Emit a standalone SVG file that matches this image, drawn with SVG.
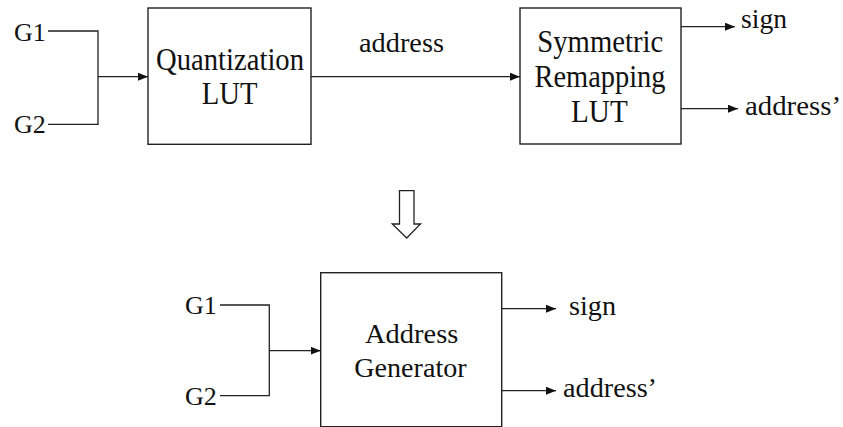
<svg xmlns="http://www.w3.org/2000/svg" width="843" height="427" viewBox="0 0 843 427">
  <style>
    .box { fill: #fff; stroke: #222; stroke-width: 1.4; }
    .wire { fill: none; stroke: #222; stroke-width: 1.3; }
    text { font-family: 'Liberation Serif', 'Times New Roman', serif; fill: #111; }
    .big { font-size: 31px; }
    .mid { font-size: 28px; }
    .lab { font-size: 26px; }
  </style>
  <defs>
    <marker id="arr" markerUnits="userSpaceOnUse" markerWidth="10" markerHeight="8" refX="10" refY="4" orient="auto">
      <path d="M0,0 L10,4 L0,8 Z" fill="#111"/>
    </marker>
  </defs>
  <rect width="843" height="427" fill="#fff"/>

  <!-- connectors -->
  <g id="connectors">
    <!-- top row -->
    <path class="wire" d="M48,31 H98 V124.3 H48"/>
    <path class="wire" d="M98,76.7 H148" marker-end="url(#arr)"/>
    <path class="wire" d="M311,76.7 H520" marker-end="url(#arr)"/>
    <path class="wire" d="M681,26.7 H735" marker-end="url(#arr)"/>
    <path class="wire" d="M681,108.7 H738" marker-end="url(#arr)"/>
    <!-- hollow transform arrow -->
    <path class="wire" d="M399.5,190.7 H414 V224 H420.5 L406.7,238 L392.3,224 H399.5 Z" stroke-width="1.2"/>
    <!-- bottom row -->
    <path class="wire" d="M220,305 H269.3 V395.7 H220"/>
    <path class="wire" d="M269.3,350.7 H320.7" marker-end="url(#arr)"/>
    <path class="wire" d="M501.7,308.7 H556" marker-end="url(#arr)"/>
    <path class="wire" d="M501.7,390.7 H556" marker-end="url(#arr)"/>
  </g>

  <!-- edge labels -->
  <g id="labels">
    <text class="lab" x="14" y="40.5">G1</text>
    <text class="lab" x="14" y="133.3">G2</text>
    <text class="mid" x="359" y="52" textLength="85" lengthAdjust="spacingAndGlyphs">address</text>
    <text class="mid" x="741" y="27.5" textLength="46" lengthAdjust="spacingAndGlyphs">sign</text>
    <text class="mid" x="745" y="115" textLength="96" lengthAdjust="spacingAndGlyphs">address’</text>
    <text class="lab" x="185" y="314.3">G1</text>
    <text class="lab" x="185" y="405">G2</text>
    <text class="mid" x="569" y="315" textLength="47" lengthAdjust="spacingAndGlyphs">sign</text>
    <text class="mid" x="563" y="396.7" textLength="94" lengthAdjust="spacingAndGlyphs">address’</text>
  </g>

  <g id="quantization-lut">
    <rect class="box" x="148" y="8" width="163" height="136.3"/>
    <text class="big" x="156" y="70" textLength="148" lengthAdjust="spacingAndGlyphs">Quantization</text>
    <text class="big" x="201.7" y="104" textLength="55.7" lengthAdjust="spacingAndGlyphs">LUT</text>
  </g>

  <g id="symmetric-remapping-lut">
    <rect class="box" x="520" y="8" width="161" height="136"/>
    <text class="big" x="537.3" y="51.7" textLength="126" lengthAdjust="spacingAndGlyphs">Symmetric</text>
    <text class="big" x="534.5" y="87" textLength="131" lengthAdjust="spacingAndGlyphs">Remapping</text>
    <text class="big" x="571" y="121.7" textLength="56.7" lengthAdjust="spacingAndGlyphs">LUT</text>
  </g>

  <g id="address-generator">
    <rect class="box" x="320.7" y="272.7" width="181" height="154"/>
    <text class="mid" x="365" y="343.3" textLength="93.3" lengthAdjust="spacingAndGlyphs">Address</text>
    <text class="mid" x="354.3" y="377.3" textLength="112.3" lengthAdjust="spacingAndGlyphs">Generator</text>
  </g>
</svg>
